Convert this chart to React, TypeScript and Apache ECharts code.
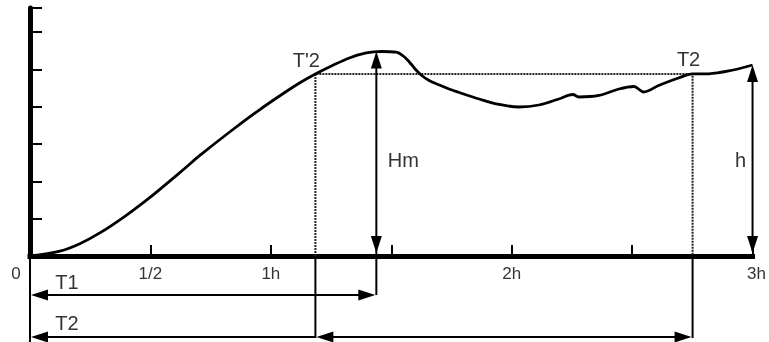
import React, { useEffect, useRef } from 'react';
import * as echarts from 'echarts';

// Dough height curve (hours vs. height units)
const curveHours = [
  0, 0.124, 0.207, 0.29, 0.394, 0.497, 0.58, 0.642, 0.704, 0.829, 0.953, 1.036, 1.119, 1.185,
  1.256, 1.326, 1.396, 1.459, 1.521, 1.55, 1.575, 1.599, 1.624, 1.657, 1.699, 1.74, 1.782,
  1.865, 1.948, 2.03, 2.113, 2.196, 2.254, 2.279, 2.362, 2.445, 2.507, 2.548, 2.61, 2.693,
  2.751, 2.818, 2.901, 3.0,
];
const curveHeight = [
  0, 1.31, 3.3, 6.19, 10.65, 15.66, 20.09, 23.46, 26.9, 33.25, 39.21, 42.91, 46.39, 48.81,
  51.09, 53.1, 54.44, 54.84, 54.65, 53.63, 52.03, 50.15, 48.54, 47.06, 45.86, 44.78, 43.85,
  42.1, 40.63, 39.96, 40.49, 42.1, 43.31, 42.64, 43.04, 44.78, 45.45, 43.98, 45.72, 47.73,
  48.81, 48.86, 49.61, 51.22,
];
const xTickLabels = ['0', '1/2', '1h', '', '2h', '', '3h'];

// Key marks
const T_PRIME_2 = 1.185; // T'2
const T_2 = 2.751; // T2
const T_1 = 1.438; // T1 (time of Hm)
const HM = 54.84; // maximum height
const PLATEAU = 48.81; // height at T'2 and T2
const H_TIME = 3.0;
const H_FINAL = 51.22; // final height h

const labels = {
  tPrime2: "T'2",
  t2: 'T2',
  t1: 'T1',
  hm: 'Hm',
  h: 'h',
};

const FONT = '"Liberation Sans", Arial, sans-serif';

export default function App() {
  const ref = useRef<HTMLDivElement>(null);
  useEffect(() => {
    const chart = echarts.init(ref.current!, null, { renderer: 'svg' });
    chart.setOption({
      animation: false,
      grid: { left: 30, right: 15, top: 8, bottom: 86 },
      xAxis: {
        type: 'value',
        min: 0,
        max: 3,
        interval: 0.5,
        axisLine: { lineStyle: { color: '#000', width: 5, cap: 'square' } },
        axisTick: { inside: true, length: 11, lineStyle: { color: '#000', width: 2 } },
        splitLine: { show: false },
        axisLabel: {
          margin: 9,
          color: '#333',
          fontSize: 17,
          fontFamily: FONT,
          formatter: (v: number) => {
            const i = Math.round(v / 0.5);
            const t = xTickLabels[i] ?? '';
            if (i === 0) return '{z|' + t + '}';
            if (i === 6) return '{r|' + t + '}';
            return t;
          },
          rich: {
            z: { padding: [0, 28, 0, 0], fontSize: 17, color: '#333', fontFamily: FONT },
            r: { padding: [0, 0, 0, 8], fontSize: 17, color: '#333', fontFamily: FONT },
          },
        },
      },
      yAxis: {
        type: 'value',
        min: 0,
        max: 66.5,
        interval: 10,
        axisLine: { show: true, lineStyle: { color: '#000', width: 5 } },
        axisTick: { show: true, inside: true, length: 12, lineStyle: { color: '#000', width: 2 } },
        axisLabel: { show: false },
        splitLine: { show: false },
      },
      series: [
        {
          type: 'line',
          name: 'plateau',
          data: [
            [T_PRIME_2, 0],
            [T_PRIME_2, PLATEAU],
            [T_2, PLATEAU],
            [T_2, 0],
          ],
          symbol: 'none',
          lineStyle: { color: '#222', width: 2, type: [2, 1] },
          silent: true,
          z: 1,
        },
        {
          type: 'line',
          name: 'height',
          data: curveHours.map((h, i) => [h, curveHeight[i]]),
          symbol: 'none',
          smooth: 0.35,
          lineStyle: { color: '#000', width: 2.8 },
          silent: true,
          z: 3,
        },
      ],
    });

    const p = (x: number, y: number) => chart.convertToPixel({ gridIndex: 0 }, [x, y]) as number[];
    const [x0, axisY] = p(0, 0);
    const xT1 = p(T_1, 0)[0];
    const xT2p = p(T_PRIME_2, 0)[0];
    const xT2 = p(T_2, 0)[0];
    const xh = p(H_TIME, 0)[0];
    const yHm = p(0, HM)[1];
    const yH = p(0, H_FINAL)[1];
    const yPlat = p(0, PLATEAU)[1];
    const row1 = axisY + 39;
    const row2 = axisY + 81;
    const L = 17;
    const W = 5.5;

    const line = (x1: number, y1: number, x2: number, y2: number) => ({
      type: 'line',
      silent: true,
      shape: { x1, y1, x2, y2 },
      style: { stroke: '#000', lineWidth: 2 },
      z: 10,
    });
    const head = (tx: number, ty: number, dir: string) => {
      let pts: number[][];
      if (dir === 'up') pts = [[tx, ty], [tx - W, ty + L], [tx + W, ty + L]];
      else if (dir === 'down') pts = [[tx, ty], [tx - W, ty - L], [tx + W, ty - L]];
      else if (dir === 'left') pts = [[tx, ty], [tx + L, ty - W], [tx + L, ty + W]];
      else pts = [[tx, ty], [tx - L, ty - W], [tx - L, ty + W]];
      return { type: 'polygon', silent: true, shape: { points: pts }, style: { fill: '#000' }, z: 11 };
    };
    const text = (t: string, x: number, y: number) => ({
      type: 'text',
      silent: true,
      x,
      y,
      style: {
        text: t,
        fill: '#333',
        fontSize: 20,
        fontFamily: FONT,
        align: 'center',
        verticalAlign: 'middle',
      },
      z: 12,
    });

    chart.setOption({
      graphic: [
        // Hm arrow
        line(xT1, yHm + 5, xT1, row1),
        head(xT1, yHm, 'up'),
        head(xT1, axisY - 3, 'down'),
        // h arrow
        line(xh, yH + 5, xh, axisY - 5),
        head(xh, yH, 'up'),
        head(xh, axisY - 3, 'down'),
        // origin drop line
        line(x0, axisY, x0, 342),
        // T1 row
        line(x0 + 5, row1, xT1 - 5, row1),
        head(x0 + 1, row1, 'left'),
        head(xT1 - 1, row1, 'right'),
        // T2 row
        line(x0 + 5, row2, xT2p, row2),
        head(x0 + 1, row2, 'left'),
        line(xT2p, axisY, xT2p, row2 + 1),
        line(xT2p + 5, row2, xT2 - 5, row2),
        head(xT2p + 1, row2, 'left'),
        head(xT2 - 1, row2, 'right'),
        line(xT2, axisY, xT2, row2 + 1),
        // labels
        text(labels.tPrime2, xT2p - 9, yPlat - 14),
        text(labels.t2, xT2 - 4, yPlat - 15),
        text(labels.hm, xT1 + 27, (axisY + yHm) / 2 + 6),
        text(labels.h, xh - 12, (axisY + yH) / 2),
        text(labels.t1, x0 + 37, row1 - 13),
        text(labels.t2, x0 + 37, row2 - 14),
      ],
    });

    return () => chart.dispose();
  }, []);
  return <div ref={ref} style={{ position: 'fixed', left: 0, top: 0, width: 769, height: 342 }} />;
}
